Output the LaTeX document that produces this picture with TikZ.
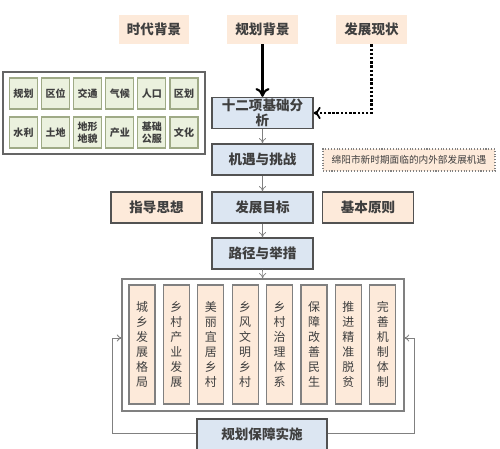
\documentclass[tikz,border=0pt]{standalone}
\usepackage{fontspec}
\newfontfamily\cjk{Noto Sans CJK SC}
\usetikzlibrary{arrows.meta}
\definecolor{peach}{HTML}{FDEADA}
\definecolor{paleblue}{HTML}{DCE6F2}
\definecolor{palegreen}{HTML}{EBF1DE}
\definecolor{olive}{HTML}{9FAA86}
\definecolor{ink}{HTML}{3F3F3F}
\tikzset{
  topbox/.style={fill=peach,minimum width=1.42cm,minimum height=0.58cm,inner sep=0pt,
    font=\cjk\bfseries\fontsize{7.7}{9}\selectfont,text=ink},
  mainbox/.style={draw=ink!90,line width=0.7pt,fill=paleblue,minimum width=2.02cm,minimum height=0.62cm,
    inner sep=0pt,align=center,font=\cjk\bfseries\fontsize{7.7}{8.5}\selectfont,text=ink},
  sidebox/.style={mainbox,fill=peach,minimum width=1.82cm},
  cellbox/.style={draw=olive,line width=0.6pt,fill=palegreen,minimum width=0.56cm,minimum height=0.62cm,
    inner sep=0pt,align=center,font=\cjk\bfseries\fontsize{5.7}{6.6}\selectfont,text=ink},
  colbox/.style={draw=gray,line width=0.7pt,fill=peach,minimum width=0.52cm,minimum height=2.38cm,
    inner sep=0pt,align=center,font=\cjk\fontsize{6.8}{8.6}\selectfont,text=ink},
  flow/.style={draw=gray,-{To[length=3pt,width=4pt]}},
  fb/.style={draw=gray,line width=0.5pt,-{To[length=3pt,width=4pt]}}
}
\begin{document}
\begin{tikzpicture}[x=0.02cm,y=-0.02cm]
\useasboundingbox (0,0) rectangle (500,449);
% draw top boxes
\node[topbox] (era) at (154,29.5) {时代背景};
\node[topbox] (plan) at (262.5,29.5) {规划背景};
\node[topbox] (status) at (371.5,29.5) {发展现状};
% draw grid of twelve items
\node[draw=ink!80,line width=0.7pt,fill=white,minimum width=4.04cm,minimum height=1.64cm,inner sep=0pt] (grid) at (104,113) {};
\foreach \t [count=\i] in {规划,区位,交通,气候,人口,区划}
  \node[cellbox] (g\i) at ({23.5+32.1*(\i-1)},93.5) {\t};
\foreach \t [count=\i] in {水利,土地,地形\\地貌,产业,基础\\公服,文化}
  \node[cellbox] (h\i) at ({23.5+32.1*(\i-1)},132.5) {\t};
% draw main flow
\node[mainbox] (base) at (262.5,113) {十二项基础分\\析};
\node[mainbox] (chance) at (262.5,159.5) {机遇与挑战};
\node[draw=gray,densely dotted,line width=0.6pt,fill=peach,minimum width=3.44cm,minimum height=0.44cm,inner sep=0pt,
  font=\cjk\fontsize{5.5}{6}\selectfont,text=ink] (note) at (409,160) {绵阳市新时期面临的内外部发展机遇};
\node[mainbox] (goal) at (262.5,207.5) {发展目标};
\node[sidebox] (idea) at (156.5,207.5) {指导思想};
\node[sidebox] (rule) at (368,207.5) {基本原则};
\node[mainbox] (path) at (262.5,253.5) {路径与举措};
% draw measures
\node[draw=gray,line width=0.7pt,fill=white,minimum width=5.64cm,minimum height=2.64cm,inner sep=0pt] (big) at (263,345) {};
\foreach \t [count=\i] in {城\\乡\\发\\展\\格\\局,乡\\村\\产\\业\\发\\展,美\\丽\\宜\\居\\乡\\村,乡\\风\\文\\明\\乡\\村,
  乡\\村\\治\\理\\体\\系,保\\障\\改\\善\\民\\生,推\\进\\精\\准\\脱\\贫,完\\善\\机\\制\\体\\制}
  \node[colbox] (m\i) at ({142+34.4*(\i-1)},344.5) {\t};
\node[mainbox,minimum width=2.6cm,minimum height=0.62cm] (impl) at (262,434.5) {规划保障实施};
% draw connectors
\draw[line width=1.6pt,-{To[length=5pt,width=8pt,line width=1.2pt]}] (plan) -- (base);
\draw[line width=1.4pt,densely dotted,-{To[length=4pt,width=7pt,line width=1pt]}] (status) |- (base);
\draw[flow] (base) -- (chance);
\draw[flow] (chance) -- (goal);
\draw[flow] (goal) -- (path);
\draw[flow] (path) -- (big);
\coordinate (lin) at (122,338);
\coordinate (rin) at (404,338);
\draw[fb] (impl.west |- 0,433) -- (112,433) |- (lin);
\draw[fb] (impl.east |- 0,433) -- (414,433) |- (rin);
\end{tikzpicture}
\end{document}
